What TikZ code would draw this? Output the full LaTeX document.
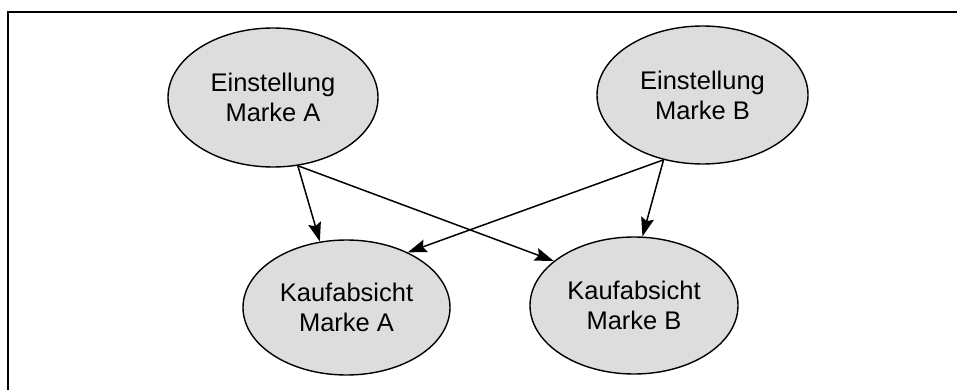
\documentclass[tikz,border=0pt]{standalone}
\usepackage{fontspec}
\setmainfont{Liberation Sans}
\usetikzlibrary{shapes.geometric,arrows.meta}
\begin{document}
\begin{tikzpicture}[x=1pt,y=-1pt,
  construct/.style={ellipse, draw=black, line width=1.4pt, fill={rgb,255:red,221;green,221;blue,221},
    inner sep=0pt, align=center, font=\fontsize{25.5}{30}\selectfont},
  link/.style={line width=1.5pt, -{Stealth[length=19pt,width=13pt,inset=3pt]}}]
  \useasboundingbox (0,0) rectangle (957,390);
  % open frame: top and left edges only
  \draw[line width=1.8pt] (8,390) -- (8,12) -- (957,12);

  \node[construct, minimum width=210pt, minimum height=139pt] (ea) at (273,97.5) {Einstellung\\Marke A};
  \node[construct, minimum width=211pt, minimum height=138pt] (eb) at (702.5,95) {Einstellung\\Marke B};
  \node[construct, minimum width=207pt, minimum height=135pt] (ka) at (346.5,307.5) {Kaufabsicht\\Marke A};
  \node[construct, minimum width=208pt, minimum height=137pt] (kb) at (634,305.5) {Kaufabsicht\\Marke B};

  \coordinate (ea-out) at (ea.-70);
  \coordinate (eb-out) at (eb.-121);

  \draw[link] (ea-out) -- (ka.112);
  \draw[link] (ea-out) -- (kb.151);
  \draw[link] (eb-out) -- (ka.42);
  \draw[link] (eb-out) -- (kb.83);
\end{tikzpicture}
\end{document}
